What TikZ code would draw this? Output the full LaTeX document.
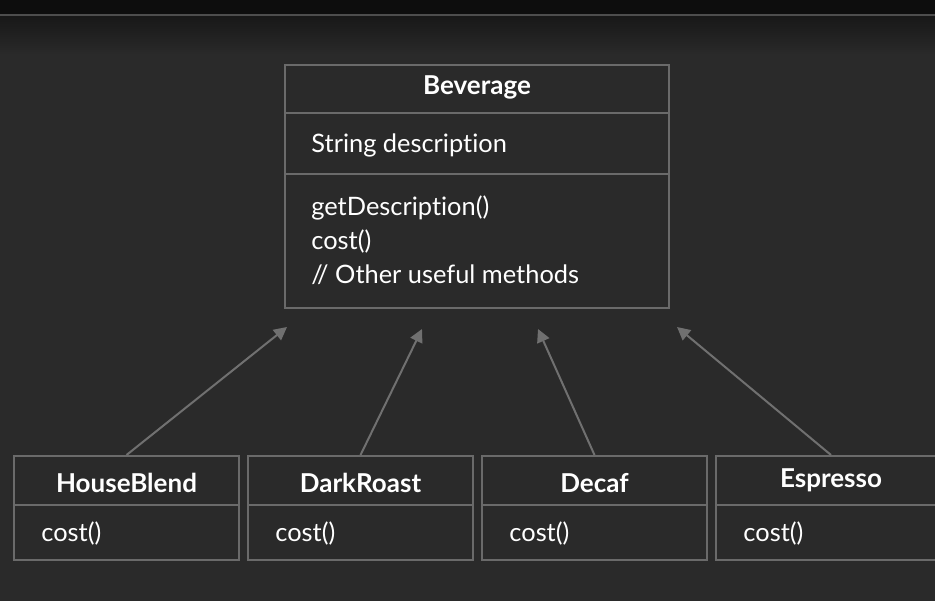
\documentclass[tikz,border=0pt]{standalone}
\usepackage{fontspec}
\setmainfont{Lato}[Ligatures=NoCommon]
\usetikzlibrary{arrows.meta,calc,positioning}
\definecolor{bgmain}{HTML}{2A2A2A}
\definecolor{bgtop}{HTML}{0D0D0D}
\definecolor{bgfade}{HTML}{181818}
\definecolor{rulegray}{HTML}{4D4D4D}
\definecolor{edgegray}{HTML}{6A6A6A}
\definecolor{arrowgray}{HTML}{707070}
\tikzset{%
	classbox/.style = {draw=edgegray, line width=1pt, rectangle, minimum width=112.5pt, minimum height=52pt, inner sep=0pt}, % class
	divider/.style  = {draw=edgegray, line width=1pt},
	classname/.style= {text=white, font=\bfseries\fontsize{13}{15}\selectfont, inner sep=0pt}, % class name
	member/.style   = {text=white, font=\fontsize{12.7}{17}\selectfont, anchor=west, align=left, inner sep=0pt},
	inherit/.style  = {draw=arrowgray, line width=1pt, -{Triangle[length=6.5pt,width=6.5pt]}},
}
\begin{document}
\begin{tikzpicture}[x=0.5pt, y=-0.5pt, node distance=3.5pt]
	% background
	\fill[bgmain] (0,0) rectangle (935,601);
	\fill[bgtop] (0,0) rectangle (935,14);
	\fill[rulegray] (0,14) rectangle (935,16.5);
	\shade[top color=bgfade, bottom color=bgmain] (0,16.5) rectangle (935,55);
	\useasboundingbox (0,0) rectangle (935,601);

	% base class
	\node[classbox, minimum width=192pt, minimum height=121.5pt] (bev) at (477,186.5) {};
	\draw[divider] ($(bev.north west)+(0,49)$) -- ($(bev.north east)+(0,49)$);
	\draw[divider] ($(bev.north west)+(0,110)$) -- ($(bev.north east)+(0,110)$);
	\node[classname] (bevname) at ($(bev.north)+(0,23)$) {Beverage};
	\node[member] (bevattr) at ($(bev.north west)+(27,81)$) {String description};
	\node[member] (bevops) at ($(bev.north west)+(27,176)$) {getDescription()\\cost()\\// Other useful methods};

	% subclasses
	\node[classbox] (hb) at (126.5,508) {};
	\node[classbox,right=of hb] (dr) {};
	\node[classbox,right=of dr] (dc) {};
	\node[classbox,right=of dc, minimum width=115pt] (es) {};
	\foreach \cls/\clsname/\dy in {hb/HouseBlend/28, dr/DarkRoast/28, dc/Decaf/28, es/Espresso/25} {
		\draw[divider] ($(\cls.north west)+(0,50)$) -- ($(\cls.north east)+(0,50)$);
		\node[classname] (\cls name) at ($(\cls.north)+(0,\dy)$) {\clsname};
		\node[member] (\cls ops) at ($(\cls.north west)+(28,78)$) {cost()};
	}

	% inheritance
	\coordinate (tipA) at (287,327);
	\coordinate (tipB) at (422,329);
	\coordinate (tipC) at (538,329);
	\coordinate (tipD) at (677,327);
	\draw[inherit] (hb.north) -- (tipA);
	\draw[inherit] (dr.north) -- (tipB);
	\draw[inherit] (dc.north) -- (tipC);
	\draw[inherit] (es.north) -- (tipD);
\end{tikzpicture}
\end{document}
